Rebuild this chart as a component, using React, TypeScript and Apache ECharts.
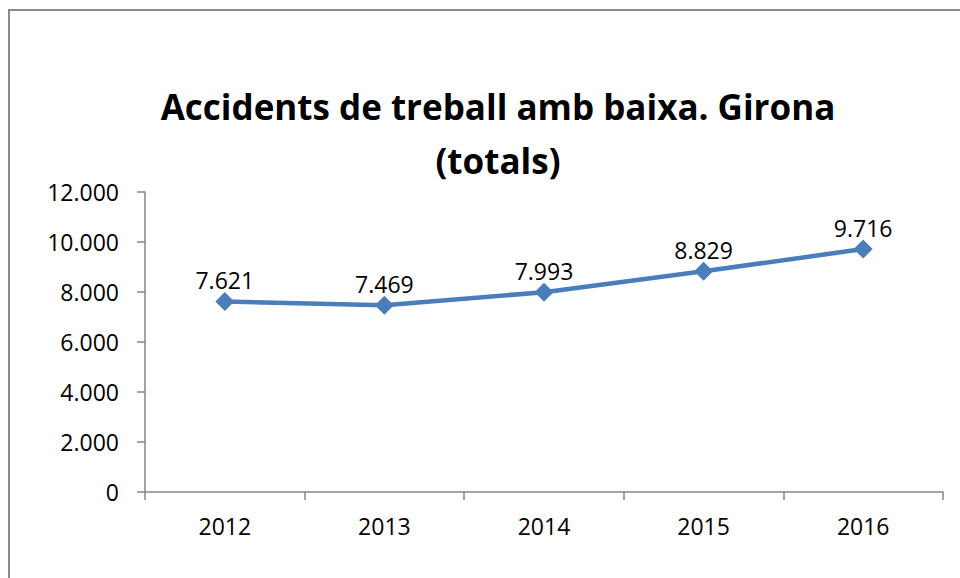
import React, { useEffect, useRef } from "react";
import * as echarts from "echarts";

const years = ["2012", "2013", "2014", "2015", "2016"];
const accidents = [7621, 7469, 7993, 8829, 9716];
const titleLines = ["Accidents de treball amb baixa. Girona", "(totals)"];

const fmt = (v: number) => {
  const s = String(Math.round(v));
  return s.replace(/\B(?=(\d{3})+(?!\d))/g, ".");
};

export default function App() {
  const ref = useRef<HTMLDivElement>(null);
  useEffect(() => {
    if (!ref.current) return;
    const chart = echarts.init(ref.current, null, { renderer: "svg" });
    const font = "'Open Sans', sans-serif";
    chart.setOption({
      animation: false,
      backgroundColor: "#ffffff",
      textStyle: { fontFamily: font },
      title: {
        text: titleLines.join("\n"),
        left: 493,
        textAlign: "center",
        top: 74,
        textStyle: { fontFamily: font, fontSize: 35, fontWeight: "bold", color: "#000", lineHeight: 54 },
      },
      graphic: [
        {
          type: "rect",
          shape: { x: 9, y: 10, width: 1000, height: 1000 },
          style: { fill: "none", stroke: "#8a8a8a", lineWidth: 2 },
          silent: true,
        },
      ],
      grid: { left: 145, right: 17, top: 192, bottom: 86 },
      xAxis: {
        type: "category",
        data: years,
        boundaryGap: true,
        axisLine: { lineStyle: { color: "#868686", width: 1.5 } },
        axisTick: { show: true, length: 8, lineStyle: { color: "#868686", width: 1.5 } },
        axisLabel: { color: "#000", fontSize: 23, fontFamily: font, margin: 22 },
      },
      yAxis: {
        type: "value",
        min: 0,
        max: 12000,
        interval: 2000,
        splitLine: { show: false },
        axisLine: { show: true, lineStyle: { color: "#868686", width: 1.5 } },
        axisTick: { show: true, length: 8, lineStyle: { color: "#868686", width: 1.5 } },
        axisLabel: { color: "#000", fontSize: 23, fontFamily: font, margin: 26, formatter: (v: number) => fmt(v) },
      },
      series: [
        {
          type: "line",
          data: accidents,
          lineStyle: { color: "#4a7ebb", width: 4.5 },
          itemStyle: { color: "#4a7ebb" },
          symbol: "diamond",
          symbolSize: 19,
          label: {
            show: true,
            position: "top",
            distance: 0,
            color: "#000",
            fontSize: 23,
            fontFamily: font,
            formatter: (p: any) => fmt(p.value),
          },
        },
      ],
    });
    return () => chart.dispose();
  }, []);
  return <div ref={ref} style={{ position: "fixed", left: 0, top: 0, width: 960, height: 578 }} />;
}
